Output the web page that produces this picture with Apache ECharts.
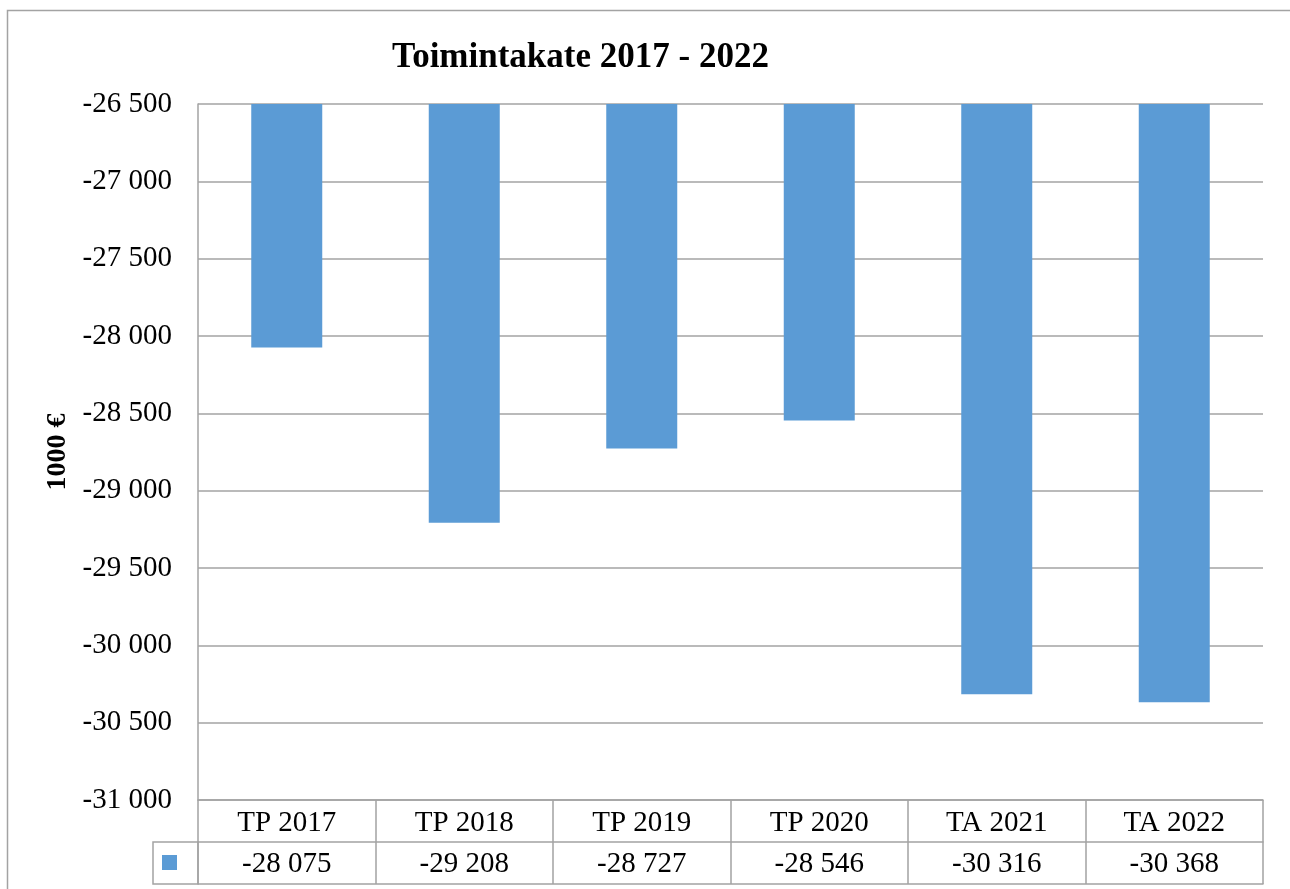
<!DOCTYPE html>
<html>
<head>
<meta charset="utf-8">
<title>Toimintakate 2017 - 2022</title>
<script src="https://cdn.jsdelivr.net/npm/echarts@6/dist/echarts.min.js"></script>
<style>
  html, body { margin: 0; padding: 0; background: #fff; }
  #chart { width: 1290px; height: 889px; }
</style>
</head>
<body>
<div id="chart"></div>
<script>
// data
var categories = ['TP 2017', 'TP 2018', 'TP 2019', 'TP 2020', 'TA 2021', 'TA 2022']
var values = [-28075, -29208, -28727, -28546, -30316, -30368]
var yMin = -31000
var yMax = -26500
var yStep = 500

var FONT = '"Liberation Serif", "Times New Roman", serif'
var GRID_COLOR = '#a3a3a3'
var BAR_COLOR = '#5b9bd5'

// "-28075" -> "-28 075"
function fmt(v) {
  var s = String(Math.abs(v)).replace(/\B(?=(\d{3})+(?!\d))/g, ' ')
  return (v < 0 ? '-' : '') + s
}

var myChart = echarts.init(document.getElementById('chart'))

var option = {
  animation: false,
  backgroundColor: '#fff',
  title: {
    text: 'Toimintakate 2017 - 2022',
    left: 387,
    top: 35,
    textStyle: { fontFamily: FONT, fontSize: 35, fontWeight: 'bold', color: '#000' },
  },
  grid: { left: 198, right: 27, top: 104, bottom: 89 },
  xAxis: [
    {
      type: 'category',
      data: categories,
      axisLine: { show: true, lineStyle: { color: GRID_COLOR, width: 1.5 } },
      axisTick: { show: true, length: 84, lineStyle: { color: GRID_COLOR, width: 1.5 } },
      axisLabel: {
        margin: 2,
        lineHeight: 42,
        color: '#000',
        fontFamily: FONT,
        fontSize: 29,
      },
    },
    {
      type: 'category',
      data: values.map(fmt),
      position: 'bottom',
      offset: 42,
      axisLine: { show: true, lineStyle: { color: GRID_COLOR, width: 1.5 } },
      axisTick: { show: false },
      axisLabel: {
        margin: 1,
        lineHeight: 42,
        color: '#000',
        fontFamily: FONT,
        fontSize: 29,
      },
    },
    {
      type: 'category',
      data: categories,
      position: 'bottom',
      offset: 84,
      axisLine: { show: true, lineStyle: { color: GRID_COLOR, width: 1.5 } },
      axisTick: { show: false },
      axisLabel: { show: false },
    },
  ],
  yAxis: {
    type: 'value',
    min: yMin,
    max: yMax,
    interval: yStep,
    name: '1000 €',
    nameLocation: 'middle',
    nameRotate: 90,
    nameGap: 126,
    nameTextStyle: { fontFamily: FONT, fontSize: 28, fontWeight: 'bold', color: '#000' },
    axisLine: { show: true, lineStyle: { color: GRID_COLOR, width: 1.5 } },
    axisTick: { show: false },
    axisLabel: {
      margin: 26,
      color: '#000',
      fontFamily: FONT,
      fontSize: 29,
      formatter: fmt,
    },
    splitLine: { show: true, lineStyle: { color: GRID_COLOR, width: 1.5 } },
  },
  series: [
    {
      name: 'Toimintakate',
      type: 'bar',
      data: values,
      barWidth: '40%',
      clip: true,
      itemStyle: { color: BAR_COLOR },
    },
  ],
  graphic: [
    // outer chart border
    {
      type: 'rect',
      shape: { x: 7.5, y: 10.5, width: 1320, height: 920 },
      style: { fill: null, stroke: GRID_COLOR, lineWidth: 1.5 },
      silent: true,
    },
    // legend key cell of data table
    {
      type: 'rect',
      shape: { x: 153, y: 842, width: 45, height: 42 },
      style: { fill: null, stroke: GRID_COLOR, lineWidth: 1.5 },
      silent: true,
    },
    {
      type: 'rect',
      shape: { x: 162, y: 855, width: 15, height: 15 },
      style: { fill: BAR_COLOR },
      silent: true,
    },
  ],
}

myChart.setOption(option)
</script>
</body>
</html>
